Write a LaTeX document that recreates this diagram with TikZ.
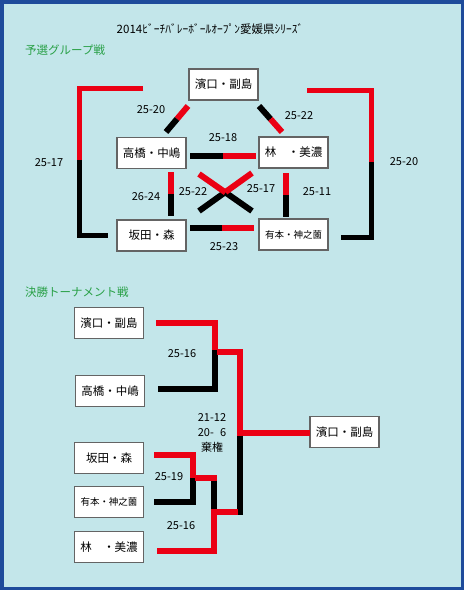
\documentclass[tikz,border=0pt]{standalone}
\usepackage{fontspec}
\setmainfont{Noto Sans CJK JP}
\usetikzlibrary{calc}
\definecolor{bgcol}{RGB}{195,230,234}
\definecolor{framecol}{RGB}{30,75,155}
\definecolor{headcol}{RGB}{40,160,70}
\definecolor{wincol}{RGB}{235,0,20}
\definecolor{boxline}{RGB}{100,100,100}
\tikzset{
  team/.style={draw=boxline,line width=1.2pt,fill=white,minimum width=69pt,minimum height=31pt,inner sep=0pt,font=\fontsize{11.5}{13}\selectfont},
  score/.style={font=\fontsize{11}{13}\selectfont,inner sep=0pt},
  win/.style={draw=wincol,line width=#1},
  win/.default=6pt,
  lose/.style={draw=black,line width=#1},
  lose/.default=6pt
}
\begin{document}
\begin{tikzpicture}[x=1pt,y=-1pt,line join=miter]
  \useasboundingbox (0,0) rectangle (464,590);
  \fill[bgcol] (0,0) rectangle (464,590);
  \draw[framecol,line width=3.5pt] (1.75,1.75) rectangle (462.25,588.25);

  \node[score,font=\fontsize{11.5}{13}\selectfont] (title) at (210,29) {2014ﾋﾞｰﾁﾊﾞﾚｰﾎﾞｰﾙｵｰﾌﾟﾝ愛媛県ｼﾘｰｽﾞ};
  \node[score,anchor=west,text=headcol,font=\fontsize{11.5}{13}\selectfont] (yosen) at (25,50) {予選グループ戦};
  \node[score,anchor=west,text=headcol,font=\fontsize{11.5}{13}\selectfont] (kessho) at (25,292) {決勝トーナメント戦};

  \node[team] (ghm) at (223.5,84.5) {濱口・副島};
  \node[team] (gtn) at (151.5,153) {高橋・中嶋};
  \node[team] (ghy) at (293.5,152.5) {林　・美濃};
  \node[team] (gsm) at (151.5,235.5) {坂田・森};
  \node[team,font=\fontsize{9.5}{11}\selectfont] (gak) at (293.5,234.5) {有本・神之薗};

  \coordinate (hmtnA) at (188,106);
  \coordinate (hmtnB) at (166,132);
  \coordinate (hmhyA) at (259,106);
  \coordinate (hmhyB) at (282,132);
  \coordinate (tnhyA) at (190,156);
  \coordinate (tnhyB) at (256,156);
  \coordinate (tnsmA) at (171,172);
  \coordinate (tnsmB) at (171,216);
  \coordinate (hyakA) at (286,173);
  \coordinate (hyakB) at (286,217);
  \coordinate (smakA) at (190,228);
  \coordinate (smakB) at (254,228);
  \coordinate (tnakA) at (199,174);
  \coordinate (tnakB) at (252,211);
  \coordinate (hysmA) at (252,173);
  \coordinate (hysmB) at (199,211);

  \draw[win] (hmtnA) -- ($(hmtnA)!0.5!(hmtnB)$);
  \draw[lose] ($(hmtnA)!0.5!(hmtnB)$) -- (hmtnB);
  \draw[lose] (hmhyA) -- ($(hmhyA)!0.5!(hmhyB)$);
  \draw[win] ($(hmhyA)!0.5!(hmhyB)$) -- (hmhyB);
  \draw[lose] (tnhyA) -- ($(tnhyA)!0.5!(tnhyB)$);
  \draw[win] ($(tnhyA)!0.5!(tnhyB)$) -- (tnhyB);
  \draw[win] (tnsmA) -- ($(tnsmA)!0.5!(tnsmB)$);
  \draw[lose] ($(tnsmA)!0.5!(tnsmB)$) -- (tnsmB);
  \draw[win] (hyakA) -- ($(hyakA)!0.5!(hyakB)$);
  \draw[lose] ($(hyakA)!0.5!(hyakB)$) -- (hyakB);
  \draw[lose] (smakA) -- ($(smakA)!0.5!(smakB)$);
  \draw[win] ($(smakA)!0.5!(smakB)$) -- (smakB);
  \draw[lose] ($(tnakA)!0.5!(tnakB)$) -- (tnakB);
  \draw[lose] ($(hysmA)!0.5!(hysmB)$) -- (hysmB);
  \draw[win] (tnakA) -- ($(tnakA)!0.5!(tnakB)$);
  \draw[win] (hysmA) -- ($(hysmA)!0.5!(hysmB)$);

  \draw[win=5pt] (143,88) -- (79,88) -- (79,160);
  \draw[lose=5pt] (79,160) -- (79,235) -- (108,235);
  \draw[win=5pt] (307,90) -- (371,90) -- (371,162);
  \draw[lose=5pt] (371,162) -- (371,237) -- (341,237);

  \node[score] (s1) at (151,110) {25-20};
  \node[score] (s2) at (299,116) {25-22};
  \node[score] (s3) at (223,138) {25-18};
  \node[score] (s4) at (49,163) {25-17};
  \node[score] (s5) at (404,162) {25-20};
  \node[score] (s6) at (146,197) {26-24};
  \node[score] (s7) at (193,192) {25-22};
  \node[score] (s8) at (261,189) {25-17};
  \node[score] (s9) at (317,192) {25-11};
  \node[score] (s10) at (224,247) {25-23};

  \node[team] (thm) at (109,323) {濱口・副島};
  \node[team] (ttn) at (110,391) {高橋・中嶋};
  \node[team] (tsm) at (109,458) {坂田・森};
  \node[team,font=\fontsize{9.5}{11}\selectfont] (tak) at (109,502) {有本・神之薗};
  \node[team] (thy) at (109,547) {林　・美濃};
  \node[team] (tchamp) at (344.5,432) {濱口・副島};

  \draw[win=5.5pt] (156,323) -- (215,323) -- (215,350);
  \draw[lose=5.5pt] (215,350) -- (215,389) -- (158,389);
  \draw[win=5.5pt] (217,352) -- (240,352) -- (240,433) -- (310,433);
  \draw[lose=5.5pt] (240,435.5) -- (240,515);

  \draw[win=5.5pt] (154,455) -- (193,455) -- (193,478);
  \draw[lose=5.5pt] (193,478) -- (193,502) -- (154,502);
  \draw[win=5.5pt] (195,478) -- (217,478);
  \draw[lose=5.5pt] (214,480.5) -- (214,511);
  \draw[win=5.5pt] (237.5,512) -- (214,512) -- (214,551) -- (157,551);

  \node[score] (f1) at (182,354) {25-16};
  \node[score] (f2) at (212,418) {21-12};
  \node[score] (f3) at (212,433) {20-\phantom{1}6};
  \node[score] (f4) at (212,447) {棄権};
  \node[score] (f5) at (169,477) {25-19};
  \node[score] (f6) at (181,526) {25-16};
\end{tikzpicture}
\end{document}
